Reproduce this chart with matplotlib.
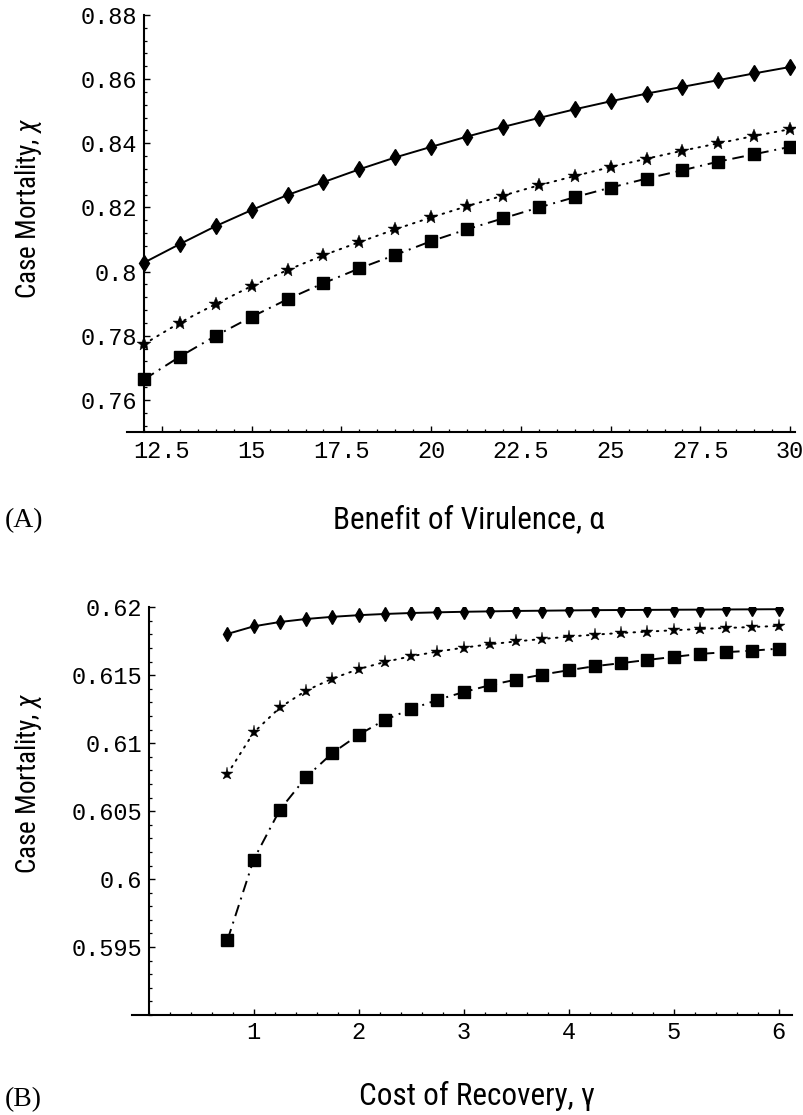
import matplotlib
matplotlib.use("Agg")
import matplotlib.pyplot as plt
from matplotlib import font_manager
from matplotlib.ticker import FixedLocator, MultipleLocator, NullFormatter

# ---- data, panel A: case mortality vs benefit of virulence ----
alpha = [12, 13, 14, 15, 16, 17, 18, 19, 20, 21, 22, 23, 24, 25, 26, 27, 28, 29, 30]
a_diamond = [0.8028, 0.8086, 0.8142, 0.8192, 0.8239, 0.8279, 0.8319, 0.8356, 0.8389, 0.8421,
             0.8451, 0.8479, 0.8506, 0.8531, 0.8555, 0.8576, 0.8597, 0.8618, 0.8638]
a_star = [0.7774, 0.7841, 0.7899, 0.7955, 0.8005, 0.8051, 0.8092, 0.8132, 0.8169, 0.8204,
          0.8237, 0.8269, 0.8298, 0.8326, 0.8352, 0.8377, 0.8400, 0.8423, 0.8444]
a_square = [0.7664, 0.7735, 0.7800, 0.7859, 0.7914, 0.7964, 0.8010, 0.8052, 0.8095, 0.8132,
            0.8166, 0.8200, 0.8232, 0.8262, 0.8290, 0.8316, 0.8343, 0.8366, 0.8389]
a_xticks = [12.5, 15, 17.5, 20, 22.5, 25, 27.5, 30]
a_xlabels = ["12.5", "15", "17.5", "20", "22.5", "25", "27.5", "30"]
a_yticks = [0.76, 0.78, 0.80, 0.82, 0.84, 0.86, 0.88]
a_ylabels = ["0.76", "0.78", "0.8", "0.82", "0.84", "0.86", "0.88"]

# ---- data, panel B: case mortality vs cost of recovery ----
gamma = [0.75, 1.0, 1.25, 1.5, 1.75, 2.0, 2.25, 2.5, 2.75, 3.0, 3.25, 3.5, 3.75, 4.0,
         4.25, 4.5, 4.75, 5.0, 5.25, 5.5, 5.75, 6.0]
b_diamond = [0.61804, 0.61860, 0.61892, 0.61914, 0.61930, 0.61942, 0.61951, 0.61958, 0.61963,
             0.61967, 0.61970, 0.61973, 0.61975, 0.61977, 0.61979, 0.61980, 0.61981, 0.61982,
             0.61983, 0.61984, 0.61985, 0.61986]
b_star = [0.60774, 0.61079, 0.61263, 0.61387, 0.61476, 0.61545, 0.61598, 0.61640, 0.61674,
          0.61703, 0.61728, 0.61749, 0.61767, 0.61784, 0.61799, 0.61811, 0.61821, 0.61831,
          0.61841, 0.61848, 0.61855, 0.61863]
b_square = [0.59551, 0.60144, 0.60511, 0.60751, 0.60928, 0.61062, 0.61172, 0.61251, 0.61319,
            0.61376, 0.61427, 0.61468, 0.61505, 0.61537, 0.61567, 0.61589, 0.61613, 0.61635,
            0.61657, 0.61670, 0.61681, 0.61696]
b_xticks = [1, 2, 3, 4, 5, 6]
b_xlabels = ["1", "2", "3", "4", "5", "6"]
b_yticks = [0.595, 0.60, 0.605, 0.61, 0.615, 0.62]
b_ylabels = ["0.595", "0.6", "0.605", "0.61", "0.615", "0.62"]

# a narrow sans for the axis titles, if one is around
names = {f.name for f in font_manager.fontManager.ttflist}
label_font = ["DejaVu Sans"]
label_stretch = "condensed"
for cand in ["Liberation Sans Narrow", "Roboto Condensed", "Open Sans Condensed", "DejaVu Sans Condensed"]:
    if cand in names:
        label_font = [cand, "DejaVu Sans"]
        label_stretch = "normal"
        break
plt.rcParams["mathtext.fontset"] = "custom"
plt.rcParams["mathtext.it"] = label_font[0] + ":italic"
plt.rcParams["mathtext.rm"] = label_font[0]
tick_font = "Liberation Mono"

fig = plt.figure(figsize=(8.04, 11.15), dpi=100)


def style_axes(ax, x0, xticks, xlabels, yticks, ylabels, xminor, yminor, xpad):
    for s in ["top", "right"]:
        ax.spines[s].set_visible(False)
    ax.spines["left"].set_position(("data", x0))
    for s in ["left", "bottom"]:
        ax.spines[s].set_linewidth(1.5)
    ax.xaxis.set_major_locator(FixedLocator(xticks))
    ax.set_xticklabels(xlabels)
    ax.yaxis.set_major_locator(FixedLocator(yticks))
    ax.set_yticklabels(ylabels)
    ax.xaxis.set_minor_locator(MultipleLocator(xminor))
    ax.yaxis.set_minor_locator(MultipleLocator(yminor))
    ax.xaxis.set_minor_formatter(NullFormatter())
    ax.yaxis.set_minor_formatter(NullFormatter())
    ax.tick_params(which="major", direction="in", length=4.5, width=1.0)
    ax.tick_params(which="minor", direction="in", length=2.2, width=0.9)
    ax.tick_params(axis="x", which="major", pad=xpad)
    ax.tick_params(axis="y", which="major", pad=5)
    for lab in ax.get_xticklabels() + ax.get_yticklabels():
        lab.set_fontfamily(tick_font)
        lab.set_fontsize(17)


def draw_series(ax, x, d, st, sq, dsize, ssize, qsize):
    ax.plot(x, d, color="black", lw=1.4, ls="-", marker="d", ms=dsize, mfc="black", mec="black")
    ax.plot(x, st, color="black", lw=1.4, ls=(0, (0.8, 3.2)), dash_capstyle="round",
            marker="*", ms=ssize, mfc="black", mec="black", mew=0.3)
    ax.plot(x, sq, color="black", lw=1.4, ls=(0, (6, 3, 1, 3)),
            marker="s", ms=qsize, mfc="black", mec="black")


# ---- panel A ----
axA = fig.add_axes([126.7 / 804, 1 - 432 / 1115, (795 - 126.7) / 804, (432 - 15) / 1115])
draw_series(axA, alpha, a_diamond, a_star, a_square, 8.5, 10, 8.5)
axA.set_xlim(12 - 17.3 / 35.9, 12 + 651 / 35.9)
axA.set_ylim(0.75, 0.88)
style_axes(axA, 12, a_xticks, a_xlabels, a_yticks, a_ylabels, 0.5, 0.004, 6)

# ---- panel B ----
axB = fig.add_axes([132 / 804, 1 - 1015 / 1115, (792 - 132) / 804, (1015 - 607.3) / 1115])
draw_series(axB, gamma, b_diamond, b_star, b_square, 7.5, 9.5, 9)
axB.set_xlim(-16.7 / 105, 643.3 / 105)
axB.set_ylim(0.59, 0.62)
style_axes(axB, 0, b_xticks, b_xlabels, b_yticks, b_ylabels, 0.2, 0.001, 4.5)

# ---- labels ----
ylab = "Case Mortality, $\\chi$"
ylab_kw = dict(family=label_font, fontstretch=label_stretch, fontsize=19.5)
xlab_kw = dict(family=label_font, fontstretch=label_stretch, fontsize=22.5)
fig.text(29 / 804, 1 - 208 / 1115, ylab, rotation=90, ha="center", va="center", **ylab_kw)
fig.text(29 / 804, 1 - 783 / 1115, ylab, rotation=90, ha="center", va="center", **ylab_kw)
fig.text(469 / 804, 1 - 520 / 1115, "Benefit of Virulence, \u03b1", ha="center", va="center", **xlab_kw)
fig.text(477 / 804, 1 - 1096 / 1115, "Cost of Recovery, \u03b3", ha="center", va="center", **xlab_kw)
fig.text(5 / 804, 1 - 521 / 1115, "(A)", ha="left", va="center",
         family="Liberation Serif", fontsize=20)
fig.text(5 / 804, 1 - 1100 / 1115, "(B)", ha="left", va="center",
         family="Liberation Serif", fontsize=20)

fig.savefig("out.png", dpi=100)
